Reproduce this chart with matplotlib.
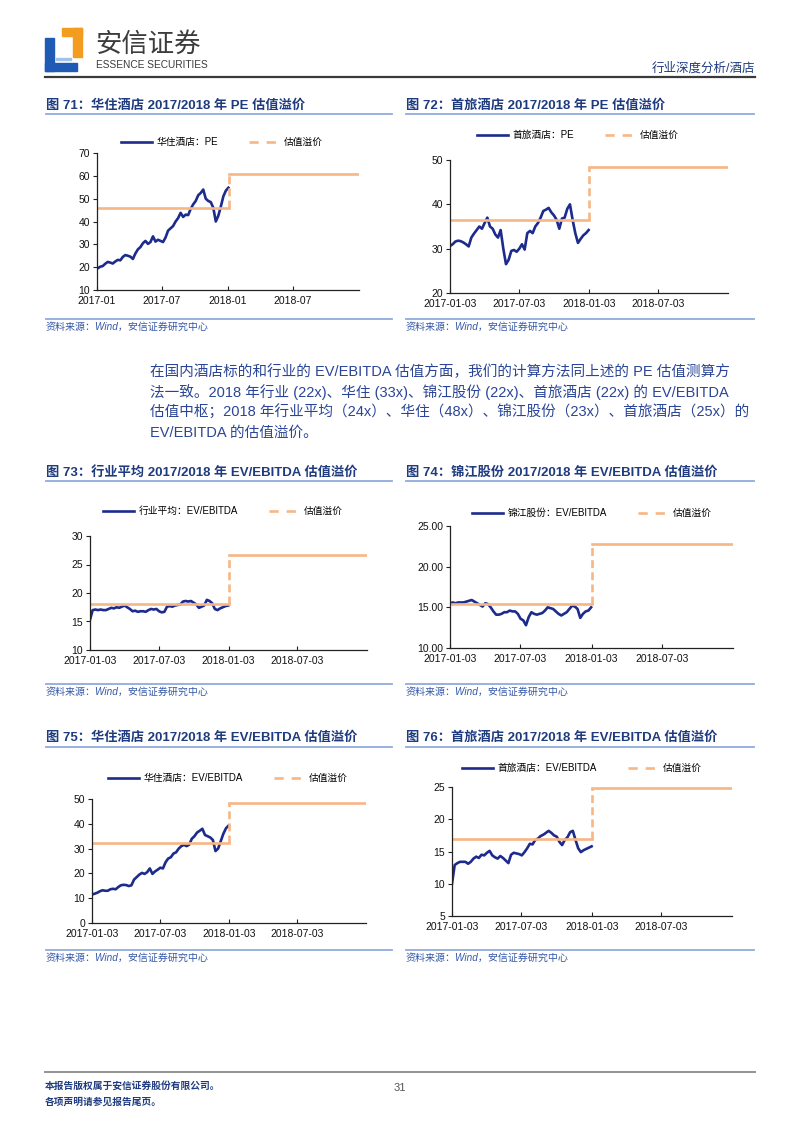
import numpy as np
import pandas as pd
import matplotlib.pyplot as plt
import matplotlib.dates as mdates
from matplotlib.lines import Line2D
from matplotlib.patches import Rectangle
from matplotlib.ticker import FixedLocator, FormatStrFormatter

plt.rcParams['font.family'] = ['Liberation Sans', 'Noto Sans CJK SC']

W, H = 800, 1132
NAVY = '#1C2B8C'
ORANGE = '#F7B784'
TITLE_C = '#1F3B7F'
TEXT_C = '#2A4597'
RULE_C = '#8FAADC'

# weekly readings, 2017-01-03 .. 2018-01-02
dates = pd.date_range('2017-01-03', periods=53, freq='7D')

hz_pe = [19.5, 20.2, 20.5, 21.5, 22.3, 22.0, 21.6, 22.5, 23.2, 23.0, 24.5, 25.3, 25.0,
         24.6, 23.6, 26.0, 27.8, 28.8, 30.5, 31.5, 30.2, 31.0, 33.5, 31.2, 32.0, 31.5,
         31.0, 33.0, 36.0, 37.0, 38.0, 40.0, 41.5, 43.8, 42.0, 43.0, 42.8, 45.5, 47.5,
         49.0, 51.5, 52.5, 54.0, 50.0, 49.0, 48.5, 46.0, 40.0, 42.5, 46.5, 51.0, 53.5, 54.8]
sl_pe = [30.6, 31.0, 31.6, 31.8, 31.7, 31.4, 31.0, 30.5, 32.5, 33.4, 34.2, 35.0, 34.5,
         35.8, 37.0, 35.0, 34.5, 33.2, 32.5, 34.2, 30.0, 26.5, 27.5, 29.5, 29.7, 29.3,
         30.0, 31.0, 29.8, 33.5, 34.0, 33.5, 35.0, 35.8, 37.0, 38.5, 38.8, 39.2, 38.2,
         37.5, 36.5, 34.5, 36.8, 37.0, 39.0, 40.0, 36.5, 33.5, 31.3, 32.2, 33.0, 33.5, 34.2]
ind_ev = [15.3, 17.0, 17.1, 17.0, 17.1, 17.0, 17.0, 17.2, 17.4, 17.3, 17.5, 17.4, 17.6,
          17.8, 17.5, 17.2, 16.8, 16.9, 16.7, 16.8, 16.8, 16.7, 17.0, 17.2, 17.1, 17.2,
          16.8, 16.6, 16.7, 17.6, 17.7, 17.6, 17.8, 17.9, 18.0, 18.5, 18.6, 18.5, 18.6,
          18.3, 18.0, 17.4, 17.6, 17.8, 18.8, 18.6, 18.2, 17.2, 17.0, 17.3, 17.5, 17.7, 17.8]
jj_ev = [15.5, 15.6, 15.5, 15.6, 15.6, 15.6, 15.7, 15.8, 15.9, 15.7, 15.5, 15.3, 15.1,
         15.5, 15.4, 15.0, 14.5, 14.1, 14.1, 14.2, 14.4, 14.4, 14.6, 14.5, 14.5, 14.2,
         13.6, 13.4, 12.8, 13.8, 14.4, 14.2, 14.1, 14.2, 14.3, 14.6, 15.0, 14.9, 14.8,
         14.5, 14.2, 14.0, 14.2, 14.4, 14.8, 15.2, 15.1, 14.8, 13.7, 14.2, 14.5, 14.6, 15.0]
hz_ev = [11.5, 11.8, 12.2, 12.8, 13.2, 13.0, 13.0, 13.6, 13.8, 13.6, 14.5, 15.2, 15.4,
         15.3, 14.9, 15.2, 17.5, 18.5, 19.5, 20.2, 19.8, 20.5, 22.0, 19.8, 20.8, 21.5,
         22.3, 22.0, 24.5, 26.0, 26.5, 28.0, 28.5, 30.0, 31.0, 31.5, 31.0, 31.6, 34.0,
         35.0, 36.5, 37.2, 38.0, 35.5, 35.0, 34.5, 33.5, 29.0, 30.0, 33.0, 36.0, 38.2, 39.3]
sl_ev = [10.0, 12.9, 13.2, 13.4, 13.4, 13.4, 13.1, 13.4, 13.9, 14.2, 14.0, 14.5, 14.4,
         14.8, 15.1, 14.4, 14.1, 13.9, 14.3, 14.0, 13.6, 13.2, 14.5, 14.8, 14.7, 14.6,
         14.4, 14.9, 15.5, 16.2, 16.1, 16.8, 17.0, 17.4, 17.6, 17.9, 18.2, 17.9, 17.5,
         17.3, 16.5, 16.0, 16.8, 17.2, 18.0, 18.2, 16.8, 15.5, 14.9, 15.2, 15.4, 15.6, 15.8]

# valuation centre (2017) and premium (2018)
prem_hz_pe = [46.0, 61.0]
prem_sl_pe = [36.5, 48.5]
prem_ind_ev = [18.1, 26.7]
prem_jj_ev = [15.35, 22.75]
prem_hz_ev = [32.4, 48.3]
prem_sl_ev = [16.9, 24.8]

step_dates = pd.to_datetime(['2017-01-03', '2018-01-03', '2018-12-31'])

fig = plt.figure(figsize=(8, 11.32), dpi=100)


def fx(x):
    return x / W


def fy(y):
    return 1 - y / H


def px_axes(x0, y0, x1, y1):
    return fig.add_axes([fx(x0), fy(y1), fx(x1 - x0), (y1 - y0) / H])


def hline(x0, x1, y, color, lw):
    fig.add_artist(Line2D([fx(x0), fx(x1)], [fy(y), fy(y)], color=color, lw=lw))


def chart(box, title, tx, ty, rule, src_y, vals, prem, label, yticks, yfmt,
          start, ticks, xfmt, leg_xy):
    fig.text(fx(tx), fy(ty), title, fontsize=9.5, fontweight='bold', color=TITLE_C,
             va='center', ha='left')
    hline(rule[0], rule[1], rule[2], RULE_C, 1.3)
    hline(rule[0], rule[1], src_y, RULE_C, 1.3)
    fig.text(fx(tx), fy(src_y + 8), '资料来源：Wind，安信证券研究中心', fontsize=7.2,
             style='italic', color='#3458A8', va='center', ha='left')

    ax = px_axes(*box)
    ax.plot(dates, vals, color=NAVY, lw=1.9)
    ax.plot([step_dates[0], step_dates[1]], [prem[0], prem[0]], color=ORANGE, lw=1.9)
    ax.plot([step_dates[1], step_dates[1]], [prem[0], prem[1]], color=ORANGE, lw=1.9,
            dashes=(3, 1.6))
    ax.plot([step_dates[1], step_dates[2]], [prem[1], prem[1]], color=ORANGE, lw=1.9)

    ax.set_xlim(pd.Timestamp(start), pd.Timestamp(start) + pd.DateOffset(years=2))
    ax.set_ylim(yticks[0], yticks[-1])
    ax.yaxis.set_major_locator(FixedLocator(yticks))
    ax.yaxis.set_major_formatter(FormatStrFormatter(yfmt))
    ax.xaxis.set_major_locator(FixedLocator(mdates.date2num(pd.to_datetime(ticks))))
    ax.xaxis.set_major_formatter(mdates.DateFormatter(xfmt))
    for s in ['top', 'right']:
        ax.spines[s].set_visible(False)
    for s in ['left', 'bottom']:
        ax.spines[s].set_color('#222222')
        ax.spines[s].set_linewidth(0.9)
    ax.tick_params(axis='x', direction='in', length=3, pad=4.5, labelsize=7.5,
                   color='#222222', labelcolor='#111111')
    ax.tick_params(axis='y', direction='out', length=3, pad=2, labelsize=7.5,
                   color='#222222', labelcolor='#111111')

    handles = [Line2D([], [], color=NAVY, lw=1.9),
               Line2D([], [], color=ORANGE, lw=1.9, dashes=(3.5, 3))]
    ax.legend(handles, [label, '估值溢价'], loc='center', ncol=2, frameon=False,
              bbox_to_anchor=(fx(leg_xy[0]), fy(leg_xy[1])), bbox_transform=fig.transFigure,
              fontsize=7, handlelength=3.2, handletextpad=0.4, columnspacing=3.2)
    return ax


tk3 = ['2017-01-03', '2017-07-03', '2018-01-03', '2018-07-03']

chart((97, 153, 359, 290), '图 71：华住酒店 2017/2018 年 PE 估值溢价', 46, 105,
      (46, 392, 114), 319, hz_pe, prem_hz_pe, '华住酒店：PE',
      [10, 20, 30, 40, 50, 60, 70], '%d', '2017-01-01',
      ['2017-01-01', '2017-07-01', '2018-01-01', '2018-07-01'], '%Y-%m', (222, 142))
chart((450, 160, 728, 293), '图 72：首旅酒店 2017/2018 年 PE 估值溢价', 406, 105,
      (406, 754, 114), 319, sl_pe, prem_sl_pe, '首旅酒店：PE',
      [20, 30, 40, 50], '%d', '2017-01-03', tk3, '%Y-%m-%d', (578, 135))
chart((90, 536, 367, 650), '图 73：行业平均 2017/2018 年 EV/EBITDA 估值溢价', 46, 472,
      (46, 392, 481), 684, ind_ev, prem_ind_ev, '行业平均：EV/EBITDA',
      [10, 15, 20, 25, 30], '%d', '2017-01-03', tk3, '%Y-%m-%d', (223, 511))
chart((450, 526, 733, 648), '图 74：锦江股份 2017/2018 年 EV/EBITDA 估值溢价', 406, 472,
      (406, 754, 481), 684, jj_ev, prem_jj_ev, '锦江股份：EV/EBITDA',
      [10, 15, 20, 25], '%.2f', '2017-01-03', tk3, '%Y-%m-%d', (592, 513))
chart((92, 799, 366, 923), '图 75：华住酒店 2017/2018 年 EV/EBITDA 估值溢价', 46, 737,
      (46, 392, 747), 950, hz_ev, prem_hz_ev, '华住酒店：EV/EBITDA',
      [0, 10, 20, 30, 40, 50], '%d', '2017-01-03', tk3, '%Y-%m-%d', (228, 778))
chart((452, 787, 732, 916), '图 76：首旅酒店 2017/2018 年 EV/EBITDA 估值溢价', 406, 737,
      (406, 754, 747), 950, sl_ev, prem_sl_ev, '首旅酒店：EV/EBITDA',
      [5, 10, 15, 20, 25], '%d', '2017-01-03', tk3, '%Y-%m-%d', (582, 768))

# header
fig.add_artist(Rectangle((fx(62), fy(36)), fx(20), 8 / H, color='#F39C1F'))
fig.add_artist(Rectangle((fx(73), fy(57)), fx(9), 29 / H, color='#F39C1F'))
fig.add_artist(Rectangle((fx(45), fy(71)), fx(9), 33 / H, color='#1F5BB4'))
fig.add_artist(Rectangle((fx(45), fy(71)), fx(32), 8 / H, color='#1F5BB4'))
fig.add_artist(Rectangle((fx(56), fy(60)), fx(15), 1.5 / H, color='#9FC3EA'))
fig.text(fx(95), fy(44), '安信证券', fontsize=19, color='#3C3C3C', va='center', ha='left')
fig.text(fx(96), fy(65), 'ESSENCE SECURITIES', fontsize=7.3, color='#3C3C3C',
         va='center', ha='left', fontstretch='condensed')
fig.text(fx(755), fy(68), '行业深度分析/酒店', fontsize=9, color=TITLE_C, va='center',
         ha='right')
hline(45, 755, 77, '#3A3A3A', 1.6)

# paragraph
para = ['在国内酒店标的和行业的 EV/EBITDA 估值方面，我们的计算方法同上述的 PE 估值测算方',
        '法一致。2018 年行业 (22x)、华住 (33x)、锦江股份 (22x)、首旅酒店 (22x) 的 EV/EBITDA',
        '估值中枢；2018 年行业平均（24x）、华住（48x）、锦江股份（23x）、首旅酒店（25x）的',
        'EV/EBITDA 的估值溢价。']
for i, line in enumerate(para):
    fig.text(fx(150), fy(372 + 20.3 * i), line, fontsize=10.5, color=TEXT_C,
             va='center', ha='left')

# footer
hline(45, 755, 1072, '#8A8A8A', 1.3)
fig.text(fx(45), fy(1086), '本报告版权属于安信证券股份有限公司。', fontsize=7,
         fontweight='bold', color=TITLE_C, va='center', ha='left')
fig.text(fx(45), fy(1102), '各项声明请参见报告尾页。', fontsize=7,
         fontweight='bold', color=TITLE_C, va='center', ha='left')
fig.text(fx(400), fy(1088), '31', fontsize=8, color='#555555', va='center', ha='center')

fig.savefig('out.png', dpi=100)
